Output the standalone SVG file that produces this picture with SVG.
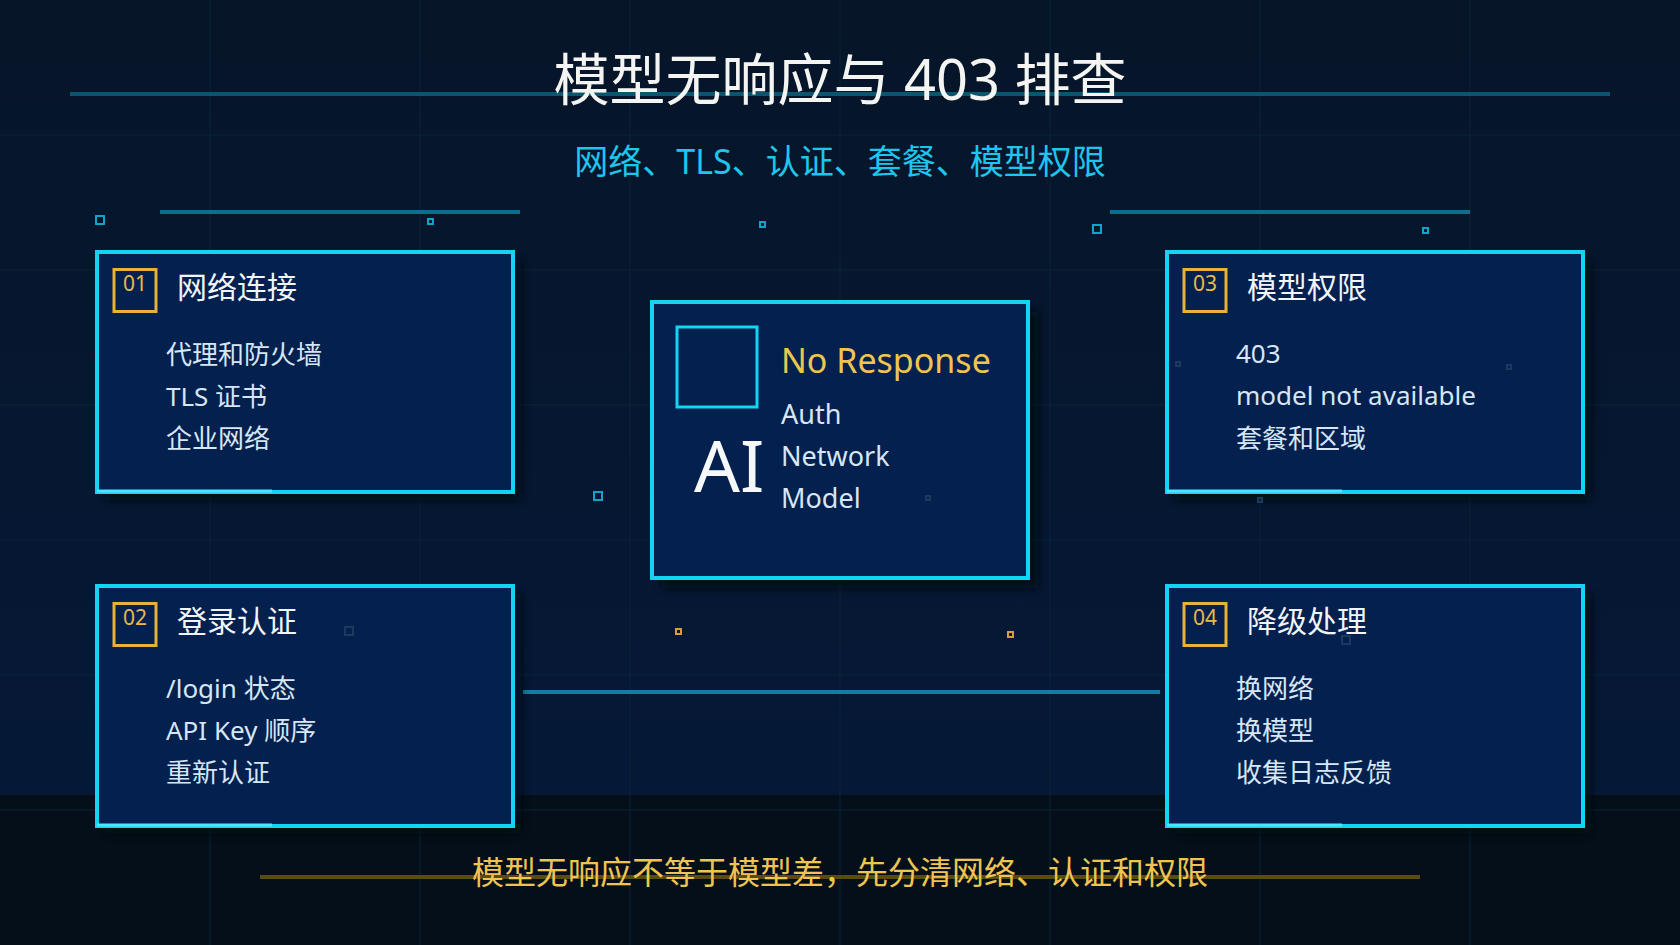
<svg xmlns="http://www.w3.org/2000/svg" width="1680" height="945" viewBox="0 0 1680 945">
<defs>
<linearGradient id="bg" x1="0" y1="0" x2="0" y2="1">
<stop offset="0" stop-color="#061528"/>
<stop offset="1" stop-color="#05193a"/>
</linearGradient>
<filter id="sh" x="-10%" y="-10%" width="130%" height="130%">
<feGaussianBlur stdDeviation="4"/>
</filter>
</defs>
<style>
.grid{stroke:#0a2438;stroke-width:1}
.card{fill:#03204e;stroke:#14d4f4;stroke-width:4}
.shadow{fill:#010810;opacity:0.8}
.accent{stroke:#4de4ff;stroke-width:3}
.badge{fill:none;stroke:#e8b23a;stroke-width:3}
.num{font-family:"Noto Sans","Noto Sans CJK SC",sans-serif;font-size:21px;fill:#e8b94a;text-anchor:middle}
.ttl{font-family:"Noto Sans","Noto Sans CJK SC",sans-serif;font-size:30px;fill:#f2f5f8}
.item{font-family:"Noto Sans","Noto Sans CJK SC",sans-serif;font-size:26px;fill:#d6e6f6}
.deco{stroke:#0d6f8e;stroke-width:4}
.sq{fill:none;stroke:#0ea6c8;stroke-width:2}
.sqy{fill:none;stroke:#d8a030;stroke-width:2}
.sqf{fill:none;stroke:#1a3a5e;stroke-width:2}
</style>
<rect x="0" y="0" width="1680" height="945" fill="url(#bg)"/>
<rect x="0" y="795" width="1680" height="150" fill="#040f1a"/>
<g id="grid">
<line class="grid" x1="210" y1="0" x2="210" y2="945"/>
<line class="grid" x1="420" y1="0" x2="420" y2="945"/>
<line class="grid" x1="630" y1="0" x2="630" y2="945"/>
<line class="grid" x1="840" y1="0" x2="840" y2="945"/>
<line class="grid" x1="1050" y1="0" x2="1050" y2="945"/>
<line class="grid" x1="1260" y1="0" x2="1260" y2="945"/>
<line class="grid" x1="1470" y1="0" x2="1470" y2="945"/>
<line class="grid" x1="0" y1="135" x2="1680" y2="135"/>
<line class="grid" x1="0" y1="270" x2="1680" y2="270"/>
<line class="grid" x1="0" y1="405" x2="1680" y2="405"/>
<line class="grid" x1="0" y1="540" x2="1680" y2="540"/>
<line class="grid" x1="0" y1="675" x2="1680" y2="675"/>
<line class="grid" x1="0" y1="810" x2="1680" y2="810"/>
</g>
<g id="decorations">
<line x1="70" y1="94" x2="1610" y2="94" stroke="#0b566f" stroke-width="4"/>
<line class="deco" x1="160" y1="212" x2="520" y2="212"/>
<line class="deco" x1="1110" y1="212" x2="1470" y2="212"/>
<rect class="sq" x="96" y="216" width="8" height="8"/>
<rect class="sq" x="428" y="219" width="5" height="5"/>
<rect class="sq" x="760" y="222" width="5" height="5"/>
<rect class="sq" x="1093" y="225" width="8" height="8"/>
<rect class="sq" x="1423" y="228" width="5" height="5"/>
<rect class="sq" x="594" y="492" width="8" height="8"/>
<rect class="sqy" x="676" y="629" width="5" height="5"/>
<rect class="sqy" x="1008" y="632" width="5" height="5"/>
<line x1="260" y1="877" x2="1420" y2="877" stroke="#5a4b14" stroke-width="4"/>
</g>
<g id="title">
<text x="840" y="100" text-anchor="middle" font-family="Noto Sans, Noto Sans CJK SC, sans-serif" font-size="56" fill="#f4f5f2">模型无响应与 403 排查</text>
<text x="840" y="174" text-anchor="middle" font-family="Noto Sans, Noto Sans CJK SC, sans-serif" font-size="34" fill="#1ec6ee">网络、TLS、认证、套餐、模型权限</text>
</g>
<g id="connectors">
<line x1="523" y1="692" x2="1160" y2="692" stroke="#137ea2" stroke-width="4"/>
</g>
<g id="card1">
<rect class="shadow" x="105" y="260" width="416" height="240" filter="url(#sh)"/>
<rect class="card" x="97" y="252" width="416" height="240"/>
<line class="accent" x1="97" y1="491" x2="272" y2="491"/>
<rect class="badge" x="114" y="269.5" width="42" height="42"/>
<text class="num" x="135" y="291">01</text>
<text class="ttl" x="177" y="298">网络连接</text>
<text class="item" x="166" y="364">代理和防火墙</text>
<text class="item" x="166" y="406">TLS 证书</text>
<text class="item" x="166" y="448">企业网络</text>
</g>
<g id="card2">
<rect class="shadow" x="105" y="594" width="416" height="240" filter="url(#sh)"/>
<rect class="card" x="97" y="586" width="416" height="240"/>
<line class="accent" x1="97" y1="825" x2="272" y2="825"/>
<rect class="sqf" x="345" y="627" width="8" height="8"/>
<rect class="badge" x="114" y="603.5" width="42" height="42"/>
<text class="num" x="135" y="625">02</text>
<text class="ttl" x="177" y="632">登录认证</text>
<text class="item" x="166" y="698">/login 状态</text>
<text class="item" x="166" y="740">API Key 顺序</text>
<text class="item" x="166" y="782">重新认证</text>
</g>
<g id="card3">
<rect class="shadow" x="1175" y="260" width="416" height="240" filter="url(#sh)"/>
<rect class="card" x="1167" y="252" width="416" height="240"/>
<line class="accent" x1="1167" y1="491" x2="1342" y2="491"/>
<rect class="sqf" x="1176" y="362" width="4" height="4"/>
<rect class="sqf" x="1507" y="365" width="4" height="4"/>
<rect class="sqf" x="1258" y="498" width="4" height="4"/>
<rect class="badge" x="1184" y="269.5" width="42" height="42"/>
<text class="num" x="1205" y="291">03</text>
<text class="ttl" x="1247" y="298">模型权限</text>
<text class="item" x="1236" y="363">403</text>
<text class="item" x="1236" y="405">model not available</text>
<text class="item" x="1236" y="448">套餐和区域</text>
</g>
<g id="card4">
<rect class="shadow" x="1175" y="594" width="416" height="240" filter="url(#sh)"/>
<rect class="card" x="1167" y="586" width="416" height="240"/>
<line class="accent" x1="1167" y1="825" x2="1342" y2="825"/>
<rect class="sqf" x="1342" y="636" width="8" height="8"/>
<rect class="badge" x="1184" y="603.5" width="42" height="42"/>
<text class="num" x="1205" y="625">04</text>
<text class="ttl" x="1247" y="632">降级处理</text>
<text class="item" x="1236" y="698">换网络</text>
<text class="item" x="1236" y="740">换模型</text>
<text class="item" x="1236" y="782">收集日志反馈</text>
</g>
<g id="center">
<rect class="shadow" x="662" y="312" width="376" height="276" filter="url(#sh)"/>
<rect class="card" x="652" y="302" width="376" height="276"/>
<rect x="677" y="327" width="80" height="80" fill="none" stroke="#14d4f4" stroke-width="3"/>
<rect class="sqf" x="926" y="496" width="4" height="4"/>
<text x="694" y="492" font-family="Noto Sans, sans-serif" font-size="72" fill="#f6f8fa">AI</text>
<text x="781" y="373" font-family="Noto Sans, sans-serif" font-size="34" fill="#f0c452">No Response</text>
<text x="781" y="424" font-family="Noto Sans, sans-serif" font-size="27" fill="#d6e6f6">Auth</text>
<text x="781" y="466" font-family="Noto Sans, sans-serif" font-size="27" fill="#d6e6f6">Network</text>
<text x="781" y="508" font-family="Noto Sans, sans-serif" font-size="27" fill="#d6e6f6">Model</text>
</g>
<g id="footer">
<text x="840" y="884" text-anchor="middle" font-family="Noto Sans CJK SC, sans-serif" font-size="32" fill="#f0c452">模型无响应不等于模型差，先分清网络、认证和权限</text>
</g>
</svg>
